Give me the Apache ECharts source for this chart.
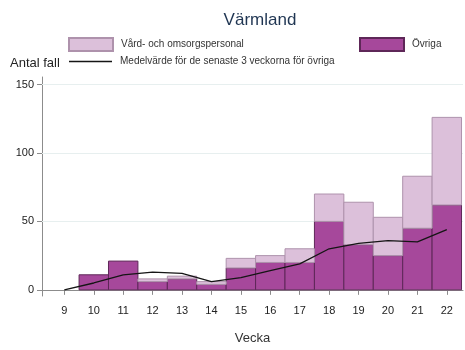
<!DOCTYPE html>
<html>
<head>
<meta charset="utf-8">
<script src="https://cdn.jsdelivr.net/npm/echarts@6/dist/echarts.min.js"></script>
<style>
  html, body { margin: 0; padding: 0; background: #fff; }
  #chart { width: 465px; height: 350px; }
</style>
</head>
<body>
<div id="chart"></div>
<script>
// Weekly case counts, Värmland
const weeks = [10, 11, 12, 13, 14, 15, 16, 17, 18, 19, 20, 21, 22];
const ovriga = [11, 21, 6, 8, 4, 16, 20, 20, 50, 33, 25, 45, 62];
const vardpersonal = [0, 0, 2, 2, 2, 7, 5, 10, 20, 31, 28, 38, 64];

// Three-week running mean for "Övriga"
const meanWeeks = [9, 10, 11, 12, 13, 14, 15, 16, 17, 18, 19, 20, 21, 22];
const meanValues = [0, 5, 11, 13, 12, 6, 9, 14, 19, 30, 34, 36, 35, 44];

const xTicks = [9, 10, 11, 12, 13, 14, 15, 16, 17, 18, 19, 20, 21, 22];
const yTicks = [0, 50, 100, 150];

const FONT = "'Liberation Sans', Arial, sans-serif";
const NAME_VARD = 'Vård- och omsorgspersonal';
const NAME_OVRIGA = 'Övriga';
const NAME_MEAN = 'Medelvärde för de senaste 3 veckorna för övriga';

// Each bar covers one full week: from week-0.5 to week+0.5
function weekBar(params, api) {
  const x = api.value(0), lo = api.value(1), hi = api.value(2);
  if (hi <= lo) return null;
  const a = api.coord([x - 0.5, hi]);
  const b = api.coord([x + 0.5, lo]);
  return {
    type: 'rect',
    shape: { x: a[0], y: a[1], width: b[0] - a[0], height: b[1] - a[1] },
    style: api.style()
  };
}

const ovrigaData = weeks.map((w, i) => [w, 0, ovriga[i]]);
const vardData = weeks.map((w, i) => [w, ovriga[i], ovriga[i] + vardpersonal[i]]);
const meanData = meanWeeks.map((w, i) => [w, meanValues[i]]);

const chart = echarts.init(document.getElementById('chart'), null, { renderer: 'canvas' });

const legendText = { color: '#333', fontSize: 10, fontFamily: FONT, padding: [0, 0, 0, 3] };

chart.setOption({
  animation: false,
  backgroundColor: '#fff',
  textStyle: { fontFamily: FONT },
  title: {
    text: 'Värmland',
    left: 255,
    textAlign: 'center',
    top: 7,
    textStyle: { color: '#1f3552', fontSize: 17, fontWeight: 'normal', fontFamily: FONT }
  },
  legend: [
    {
      left: 68, top: 37, padding: 0, itemWidth: 44, itemHeight: 13, icon: 'rect',
      data: [NAME_VARD], textStyle: legendText, selectedMode: false
    },
    {
      left: 359, top: 37, padding: 0, itemWidth: 44, itemHeight: 13, icon: 'rect',
      data: [NAME_OVRIGA], textStyle: legendText, selectedMode: false
    },
    {
      left: 69, top: 56.5, padding: 0, itemWidth: 43, itemHeight: 1.4, icon: 'rect',
      data: [NAME_MEAN], textStyle: legendText, selectedMode: false
    }
  ],
  grid: { left: 42, right: 2, top: 77, bottom: 48 },
  xAxis: {
    type: 'value',
    min: 8.24,
    max: 22.55,
    name: 'Vecka',
    nameLocation: 'middle',
    nameGap: 36,
    nameTextStyle: { color: '#333', fontSize: 13, fontFamily: FONT },
    axisLine: { show: true, lineStyle: { color: '#8c8c8c', width: 1 } },
    axisTick: { show: true, length: 5, customValues: xTicks, lineStyle: { color: '#8c8c8c' } },
    axisLabel: { customValues: xTicks, margin: 9, color: '#222', fontSize: 11, fontFamily: FONT },
    splitLine: { show: false }
  },
  yAxis: {
    type: 'value',
    min: -4.5,
    max: 155.5,
    name: 'Antal fall',
    nameLocation: 'end',
    nameGap: 7,
    nameTextStyle: {
      color: '#222', fontSize: 13, fontFamily: FONT,
      align: 'left', verticalAlign: 'bottom', padding: [0, 0, 0, -32]
    },
    axisLine: { show: true, lineStyle: { color: '#8c8c8c', width: 1 } },
    axisTick: { show: true, length: 5, customValues: yTicks, lineStyle: { color: '#8c8c8c' } },
    axisLabel: { customValues: yTicks, margin: 8, color: '#222', fontSize: 11, fontFamily: FONT },
    splitLine: { show: false }
  },
  series: [
    {
      // horizontal gridlines at the labelled values, kept behind the bars
      type: 'line',
      data: [],
      z: 1,
      silent: true,
      markLine: {
        z: 1,
        silent: true,
        symbol: 'none',
        label: { show: false },
        emphasis: { disabled: true },
        lineStyle: { color: '#e7efef', width: 1, type: 'solid' },
        data: yTicks.filter(v => v > 0).map(v => ({ yAxis: v }))
      }
    },
    {
      name: NAME_OVRIGA,
      type: 'custom',
      renderItem: weekBar,
      encode: { x: 0, y: [1, 2] },
      data: ovrigaData,
      z: 3,
      itemStyle: { color: '#a6489b', borderColor: '#5e2758', borderWidth: 1 }
    },
    {
      name: NAME_VARD,
      type: 'custom',
      renderItem: weekBar,
      encode: { x: 0, y: [1, 2] },
      data: vardData,
      z: 3,
      itemStyle: { color: '#dcc0da', borderColor: '#ae92ac', borderWidth: 1 }
    },
    {
      name: NAME_MEAN,
      type: 'line',
      data: meanData,
      symbol: 'none',
      z: 5,
      lineStyle: { color: '#151515', width: 1.3 },
      itemStyle: { color: '#151515' }
    }
  ]
});
</script>
</body>
</html>
